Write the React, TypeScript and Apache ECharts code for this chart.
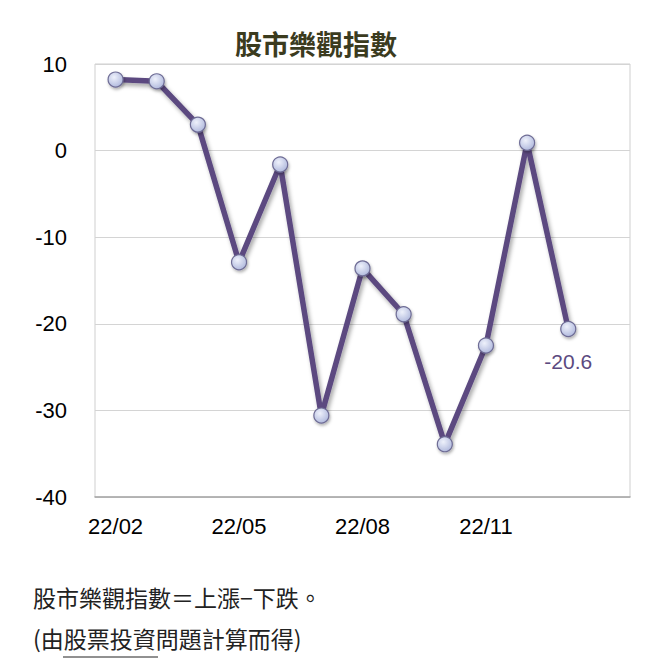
import React, { useEffect, useRef } from "react";
import * as echarts from "echarts";

const categories = ["22/02", "22/03", "22/04", "22/05", "22/06", "22/07", "22/08", "22/09", "22/10", "22/11", "22/12", "23/01", "23/02"];
const values = [8.2, 8.0, 3.0, -12.9, -1.6, -30.6, -13.6, -18.9, -33.9, -22.5, 0.9, -20.6];
const yMin = -40;
const yMax = 10;
const yInterval = 10;
const chartTitle = "股市樂觀指數";
const noteLine1 = "股市樂觀指數＝上漲−下跌。";
const noteLine2 = "(由股票投資問題計算而得)";

const LINE_COLOR = "#5b4a80";

export default function App() {
  const ref = useRef<HTMLDivElement>(null);

  useEffect(() => {
    if (!ref.current) return;
    const chart = echarts.init(ref.current, null, { renderer: "svg" });
    const lastIdx = values.length - 1;
    const seriesData = values.map((v, i) =>
      i === lastIdx
        ? {
            value: v,
            label: {
              show: true,
              position: "bottom",
              distance: 14,
              formatter: (p: any) => String(p.value),
              color: LINE_COLOR,
              fontSize: 21,
              fontFamily: "Liberation Sans, Arial, sans-serif",
            },
          }
        : v
    );

    chart.setOption({
      animation: false,
      backgroundColor: "#ffffff",
      grid: {
        left: 95,
        right: 30,
        top: 64,
        bottom: 174,
        show: true,
        borderColor: "#cfcfcf",
        borderWidth: 1,
      },
      xAxis: {
        type: "category",
        data: categories,
        boundaryGap: true,
        axisLine: { show: true, onZero: false, lineStyle: { color: "#a6a6a6", width: 1.5 } },
        axisTick: { show: false },
        axisLabel: {
          interval: (index: number) => index % 3 === 0 && index < 12,
          color: "#000",
          fontSize: 22,
          margin: 18,
          fontFamily: "Liberation Sans, Arial, sans-serif",
        },
        splitLine: { show: false },
      },
      yAxis: {
        type: "value",
        min: yMin,
        max: yMax,
        interval: yInterval,
        axisLine: { show: false },
        axisTick: { show: false },
        axisLabel: {
          color: "#000",
          fontSize: 22,
          margin: 28,
          fontFamily: "Liberation Sans, Arial, sans-serif",
        },
        splitLine: { show: true, lineStyle: { color: "#d4d4d4", width: 1 } },
      },
      series: [
        {
          type: "line",
          data: seriesData,
          symbol: "circle",
          symbolSize: 15,
          lineStyle: {
            color: LINE_COLOR,
            width: 5.5,
            shadowColor: "rgba(0,0,0,0.35)",
            shadowBlur: 4,
            shadowOffsetX: 2,
            shadowOffsetY: 3,
          },
          itemStyle: {
            color: new echarts.graphic.RadialGradient(0.4, 0.35, 0.7, [
              { offset: 0, color: "#eef1fb" },
              { offset: 1, color: "#aeb7dc" },
            ]),
            borderColor: "#6e6c95",
            borderWidth: 1.2,
            shadowColor: "rgba(0,0,0,0.3)",
            shadowBlur: 3,
            shadowOffsetX: 1,
            shadowOffsetY: 2,
          },
          emphasis: { disabled: true },
          z: 3,
        },
      ],
      graphic: [
        {
          type: "text",
          x: 316,
          y: 43,
          style: {
            text: chartTitle,
            textAlign: "center",
            textVerticalAlign: "middle",
            fill: "#3b3b1e",
            font: "bold 27px 'Noto Sans CJK TC', sans-serif",
          },
        },
        {
          type: "text",
          x: 33,
          y: 597,
          style: {
            text: noteLine1,
            textAlign: "left",
            textVerticalAlign: "middle",
            fill: "#222",
            font: "23px 'Noto Sans CJK TC', sans-serif",
          },
        },
        {
          type: "text",
          x: 33,
          y: 638,
          style: {
            text: noteLine2,
            textAlign: "left",
            textVerticalAlign: "middle",
            fill: "#222",
            font: "23px 'Noto Sans CJK TC', sans-serif",
          },
        },
        {
          type: "line",
          shape: { x1: 63, y1: 657, x2: 158, y2: 657 },
          style: { stroke: "#222", lineWidth: 1 },
        },
      ],
    });

    return () => {
      chart.dispose();
    };
  }, []);

  return (
    <div
      ref={ref}
      style={{ position: "absolute", left: 0, top: 0, width: 660, height: 671 }}
    />
  );
}
